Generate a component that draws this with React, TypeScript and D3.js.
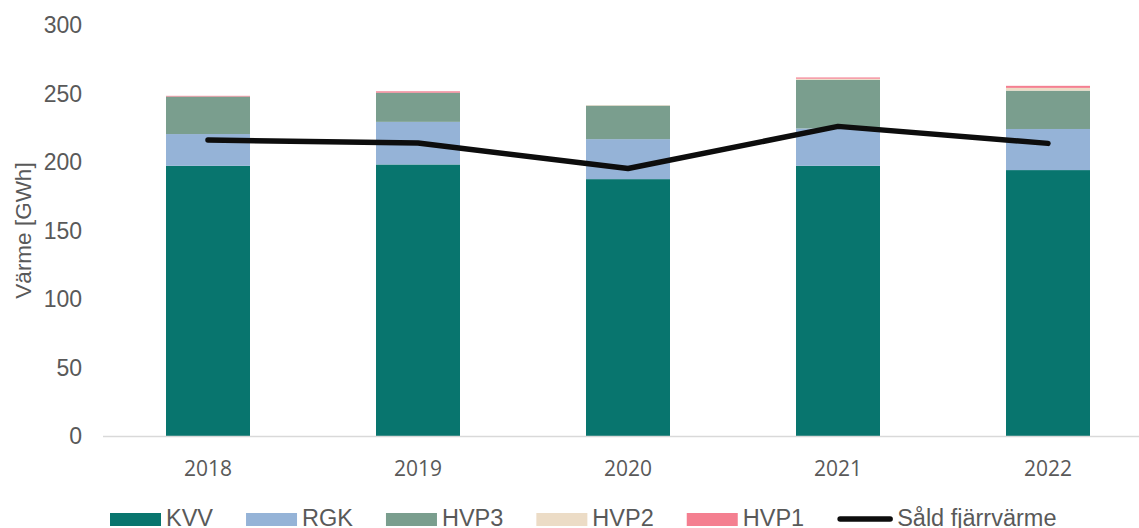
import React, { useEffect, useRef } from "react";
import * as d3 from "d3";

const years = ["2018", "2019", "2020", "2021", "2022"];
const kvv = [197.2, 198.2, 187.5, 197.2, 194.1];
const rgk = [23.2, 31.1, 29.2, 27.3, 30.0];
const hvp3 = [27.4, 21.3, 24.5, 35.5, 28.0];
const hvp2 = [0, 0, 0.4, 0.8, 2.0];
const hvp1 = [0.5, 1.0, 0, 0.9, 1.5];
const sold = [216, 213.8, 195.3, 226, 213.6];
const yTicks = [0, 50, 100, 150, 200, 250, 300];

const seriesNames = ["KVV", "RGK", "HVP3", "HVP2", "HVP1"];
const seriesValues = [kvv, rgk, hvp3, hvp2, hvp1];
const seriesColors = ["#08756e", "#95b3d7", "#7a9e8e", "#ecdcc6", "#f47f90"];
const lineName = "Såld fjärrvärme";

const App = () => {
  const svgRef = useRef<SVGSVGElement>(null);

  const makeGraphic = () => {
    const width = 1139,
      height = 528;
    const svg = d3.select(svgRef.current).attr("width", width).attr("height", height);
    svg.selectAll("*").remove();

    const x = d3
      .scaleBand()
      .domain(years)
      .range([103, 1153])
      .paddingInner(0.6)
      .paddingOuter(0.3);
    const y = d3.scaleLinear().domain([0, 300]).range([436, 25]);

    // stacked table built from the series arrays
    const table = years.map((yr, i) => {
      const row: any = { year: yr };
      seriesNames.forEach((n, j) => (row[n] = seriesValues[j][i]));
      return row;
    });
    const stacked = d3.stack().keys(seriesNames)(table);

    // y tick labels
    svg
      .append("g")
      .selectAll("text")
      .data(yTicks)
      .join("text")
      .attr("x", 82)
      .attr("y", (d) => y(d))
      .attr("dy", "0.35em")
      .attr("text-anchor", "end")
      .attr("font-family", "'Liberation Sans', Arial, sans-serif")
      .attr("font-size", 23)
      .attr("fill", "#595959")
      .text((d) => d);

    // axis title
    svg
      .append("text")
      .attr("transform", "translate(31," + y(150) + ") rotate(-90)")
      .attr("text-anchor", "middle")
      .attr("font-family", "'Liberation Sans', Arial, sans-serif")
      .attr("font-size", 22.5)
      .attr("fill", "#595959")
      .text("Värme [GWh]");

    // bars
    svg
      .append("g")
      .selectAll("g")
      .data(stacked)
      .join("g")
      .attr("fill", (d, i) => seriesColors[i])
      .selectAll("rect")
      .data((d) => d)
      .join("rect")
      .attr("x", (d: any) => x(d.data.year)!)
      .attr("width", x.bandwidth())
      .attr("y", (d) => y(d[1]))
      .attr("height", (d) => Math.max(0, y(d[0]) - y(d[1])));

    // zero axis line
    svg
      .append("line")
      .attr("x1", 103)
      .attr("x2", 1153)
      .attr("y1", y(0) + 0.5)
      .attr("y2", y(0) + 0.5)
      .attr("stroke", "#d9d9d9")
      .attr("stroke-width", 1.5);

    // x tick labels
    svg
      .append("g")
      .selectAll("text")
      .data(years)
      .join("text")
      .attr("x", (d) => x(d)! + x.bandwidth() / 2)
      .attr("y", 476)
      .attr("text-anchor", "middle")
      .attr("font-family", "'Open Sans', sans-serif")
      .attr("font-size", 21)
      .attr("fill", "#595959")
      .text((d) => d);

    // sold line
    const line = d3
      .line<number>()
      .x((d, i) => x(years[i])! + x.bandwidth() / 2)
      .y((d) => y(d));
    svg
      .append("path")
      .datum(sold)
      .attr("fill", "none")
      .attr("stroke", "#0d0d0d")
      .attr("stroke-width", 5.5)
      .attr("stroke-linecap", "round")
      .attr("stroke-linejoin", "round")
      .attr("d", line);

    // legend
    const leg = svg.append("g");
    let cx = 110;
    const baseline = 526;
    seriesNames.forEach((n, i) => {
      leg
        .append("rect")
        .attr("x", cx)
        .attr("y", 513)
        .attr("width", 51)
        .attr("height", 13)
        .attr("fill", seriesColors[i]);
      const t = leg
        .append("text")
        .attr("x", cx + 56)
        .attr("y", baseline)
        .attr("font-family", "'Liberation Sans', Arial, sans-serif")
        .attr("font-size", 23.5)
        .attr("fill", "#595959")
        .text(n);
      const w = (t.node() as SVGTextElement).getComputedTextLength();
      cx = cx + 56 + w + 33;
    });
    leg
      .append("line")
      .attr("x1", cx + 3)
      .attr("x2", cx + 53)
      .attr("y1", 519)
      .attr("y2", 519)
      .attr("stroke", "#0d0d0d")
      .attr("stroke-width", 5.5)
      .attr("stroke-linecap", "round");
    leg
      .append("text")
      .attr("x", cx + 60)
      .attr("y", baseline)
      .attr("font-family", "'Liberation Sans', Arial, sans-serif")
      .attr("font-size", 23.5)
      .attr("fill", "#595959")
      .text(lineName);
  };

  useEffect(() => {
    makeGraphic();
  }, []);

  return (
    <svg
      ref={svgRef}
      style={{ position: "absolute", left: 0, top: 0, background: "#fff" }}
    ></svg>
  );
};

export default App;
